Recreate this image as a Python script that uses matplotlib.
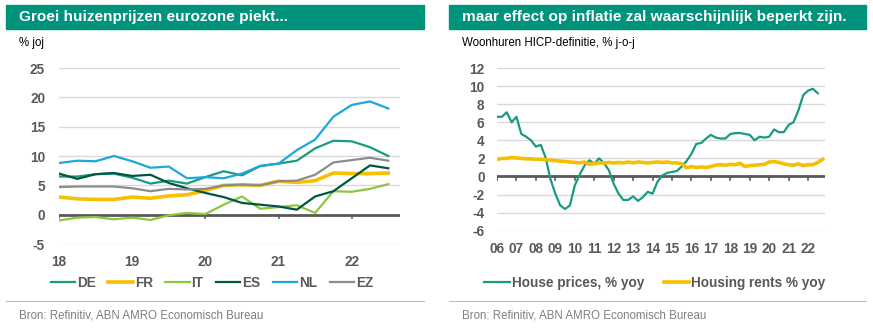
import numpy as np
import matplotlib
matplotlib.use("Agg")
import matplotlib.pyplot as plt
from matplotlib.patches import Rectangle
from matplotlib.lines import Line2D

plt.rcParams['font.family'] = ['Liberation Sans', 'DejaVu Sans']
plt.rcParams['axes.unicode_minus'] = False

# left chart: quarterly house price growth, 2018Q1 - 2022Q3
quarters_left = 2018 + np.arange(19) / 4
de = [6.5, 6.5, 6.9, 7.0, 6.3, 5.3, 5.8, 5.3, 6.4, 7.4, 6.7, 8.3, 8.7, 9.2, 11.3, 12.6, 12.5, 11.5, 10.0]
fr = [3.0, 2.7, 2.6, 2.6, 3.0, 2.8, 3.2, 3.4, 4.1, 5.0, 5.1, 5.0, 5.7, 5.5, 5.8, 7.1, 7.0, 7.0, 7.1]
it = [-1.0, -0.5, -0.4, -0.8, -0.5, -0.9, -0.1, 0.3, 0.1, 1.7, 3.1, 1.0, 1.3, 1.6, 0.3, 4.0, 3.9, 4.4, 5.2]
es = [7.0, 6.1, 6.9, 7.1, 6.6, 6.8, 5.4, 4.5, 3.7, 3.0, 2.0, 1.7, 1.4, 0.85, 3.1, 4.0, 6.2, 8.4, 7.9]
nl = [8.8, 9.2, 9.1, 10.0, 9.1, 8.0, 8.2, 6.2, 6.4, 6.2, 7.0, 8.3, 8.7, 11.0, 12.8, 16.7, 18.7, 19.3, 18.1]
ez = [4.7, 4.8, 4.8, 4.8, 4.5, 4.0, 4.4, 4.3, 4.4, 5.0, 5.1, 5.0, 5.7, 5.8, 6.8, 8.9, 9.3, 9.7, 9.2]
left_years = [2018, 2019, 2020, 2021, 2022]
left_labels = ['18', '19', '20', '21', '22']

# right chart: Dutch house prices vs. housing rents, quarterly from 2006
house_prices = [6.6, 6.6, 7.1, 6.0, 6.6, 4.7, 4.4, 4.0, 3.3, 3.5, 2.1, -0.3,
                -1.9, -3.2, -3.6, -3.2, -1.0, 0.2, 1.2, 1.8, 1.4, 2.0, 1.5, 0.7,
                -0.8, -1.9, -2.6, -2.6, -2.2, -2.7, -2.3, -1.7, -1.9, -0.6, 0.1, 0.4,
                0.5, 0.6, 1.1, 1.7, 2.5, 3.6, 3.7, 4.2, 4.6, 4.3, 4.2, 4.2,
                4.7, 4.8, 4.8, 4.7, 4.6, 4.0, 4.4, 4.3, 4.4, 5.2, 4.9, 4.9,
                5.7, 6.0, 7.3, 9.0, 9.5, 9.7, 9.2]
housing_rents = [1.9, 2.0, 2.0, 2.1, 2.05, 2.0, 1.95, 1.95, 1.9, 1.9, 1.85, 1.8,
                 1.75, 1.7, 1.65, 1.6, 1.55, 1.5, 1.6, 1.35, 1.4, 1.5, 1.5, 1.55,
                 1.5, 1.55, 1.5, 1.6, 1.5, 1.6, 1.55, 1.5, 1.55, 1.6, 1.55, 1.6,
                 1.5, 1.5, 1.4, 0.95, 1.1, 1.0, 1.05, 1.0, 1.1, 1.25, 1.3, 1.25,
                 1.35, 1.3, 1.45, 1.1, 1.2, 1.25, 1.3, 1.35, 1.6, 1.65, 1.55, 1.4,
                 1.3, 1.25, 1.4, 1.2, 1.3, 1.3, 1.55, 1.9]
hp_x = 2006 + np.arange(len(house_prices)) / 4
hr_x = 2006 + np.arange(len(housing_rents)) / 4
right_years = list(range(2006, 2023))
right_labels = ['%02d' % (y % 100) for y in right_years]

TEAL = '#00937b'
GRID = '#d9d9d9'
AXIS = '#595959'
TXT = '#595959'

W, H = 873, 330
fig = plt.figure(figsize=(W / 100, H / 100), dpi=100)


def fx(px):
    return px / W


def fy(py):
    return 1 - py / H


def frame(x0, x1, title, subtitle):
    fig.patches.append(Rectangle((fx(x0), fy(29)), fx(x1 - x0), 24 / H,
                                 transform=fig.transFigure, color=TEAL, zorder=0))
    fig.text(fx(x0 + 13), fy(17), title, color='white', fontsize=11.1,
             fontweight='bold', va='center', ha='left')
    fig.text(fx(x0 + 13), fy(43), subtitle, color='black', fontsize=8.3,
             va='center', ha='left')
    fig.lines.append(Line2D([fx(x0), fx(x1)], [fy(301), fy(301)],
                            transform=fig.transFigure, color='#bfbfbf', lw=0.8))
    fig.text(fx(x0 + 13), fy(315), 'Bron: Refinitiv, ABN AMRO Economisch Bureau',
             color='#7f7f7f', fontsize=8.3, va='center', ha='left')


def style(ax, yticks):
    for s in ax.spines.values():
        s.set_visible(False)
    ax.set_yticks(yticks)
    ax.yaxis.grid(True, color=GRID, lw=1)
    ax.set_axisbelow(True)
    ax.axhline(0, color=AXIS, lw=2, zorder=1)
    ax.tick_params(axis='y', length=0, labelsize=9.8, labelcolor=TXT)
    ax.tick_params(axis='x', length=0, labelsize=9.8, labelcolor=TXT)
    for lab in ax.get_yticklabels() + ax.get_xticklabels():
        lab.set_fontweight('bold')


def legend(ax, x_center, hlen, cspace):
    lg = ax.legend(loc='upper center', ncol=6, frameon=False,
                   handlelength=hlen, handletextpad=0.15, columnspacing=cspace,
                   prop={'size': 9.8, 'weight': 'bold'})
    lg.set_bbox_to_anchor((fx(x_center), fy(264)), transform=fig.transFigure)
    for t in lg.get_texts():
        t.set_color(TXT)
    return lg


frame(6, 424, 'Groei huizenprijzen eurozone piekt...', '% joj')
frame(449, 866, 'maar effect op inflatie zal waarschijnlijk beperkt zijn.',
      'Woonhuren HICP-definitie, % j-o-j')

# left panel
ax1 = fig.add_axes([fx(59), fy(244), fx(400 - 59), 176 / H])
ax1.plot(quarters_left, de, color='#1a9a82', lw=1.6, label='DE')
ax1.plot(quarters_left, fr, color='#f5c000', lw=2.6, label='FR')
ax1.plot(quarters_left, it, color='#8dc63f', lw=1.6, label='IT')
ax1.plot(quarters_left, es, color='#00573f', lw=1.6, label='ES')
ax1.plot(quarters_left, nl, color='#1aa8dd', lw=1.6, label='NL')
ax1.plot(quarters_left, ez, color='#8c8c8c', lw=1.6, label='EZ')
ax1.set_xlim(2018, 2022.66)
ax1.set_ylim(-5, 25)
ax1.set_xticks(left_years)
ax1.set_xticklabels(left_labels)
style(ax1, [-5, 0, 5, 10, 15, 20, 25])
ax1.tick_params(axis='y', pad=10)
ax1.tick_params(axis='x', pad=8)
for yr in left_years:
    ax1.plot([yr, yr], [0, -0.6], color=AXIS, lw=1.2, zorder=1)
legend(ax1, 212, 1.8, 0.9)

# right panel
ax2 = fig.add_axes([fx(497), fy(230.7), fx(825 - 497), 162.7 / H])
ax2.plot(hp_x, house_prices, color='#1a9a82', lw=1.6, label='House prices, % yoy')
ax2.plot(hr_x, housing_rents, color='#f5c000', lw=2.6, label='Housing rents % yoy')
ax2.set_xlim(2006, 2022.87)
ax2.set_ylim(-6, 12)
ax2.set_xticks(right_years)
ax2.set_xticklabels(right_labels)
style(ax2, list(range(-6, 13, 2)))
ax2.tick_params(axis='y', pad=9)
ax2.tick_params(axis='x', pad=8)
for yr in right_years:
    ax2.plot([yr, yr], [0, -0.35], color=AXIS, lw=1.2, zorder=1)
legend(ax2, 655, 1.9, 1.4)

fig.savefig('out.png', dpi=100)
